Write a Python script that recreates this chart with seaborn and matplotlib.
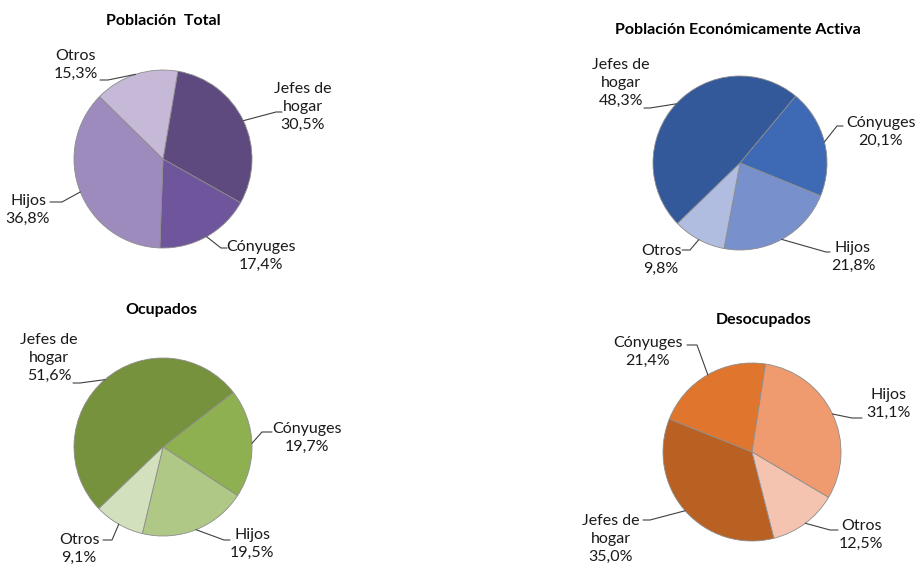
import matplotlib
matplotlib.use("Agg")
import numpy as np
import matplotlib.pyplot as plt
import seaborn as sns

# Data: shares of each group per chart
categories = ['Jefes de\nhogar', 'Cónyuges', 'Hijos', 'Otros']
titles = ['Población  Total', 'Población Económicamente Activa', 'Ocupados', 'Desocupados']
total = [30.5, 17.4, 36.8, 15.3]
pea = [48.3, 20.1, 21.8, 9.8]
ocupados = [51.6, 19.7, 19.5, 9.1]
desocupados = [35.0, 21.4, 31.1, 12.5]
series = [total, pea, ocupados, desocupados]

purples = ['#5e4a7e', '#6f559b', '#9d8bbd', '#c5b9d7']
blues = ['#33599a', '#3e69b5', '#7891cc', '#b0bde0']
greens = ['#76923c', '#8fb050', '#afc886', '#d3e0bd']
oranges = ['#b96023', '#e0762d', '#f09a6f', '#f5c4b1']
palettes = [purples, blues, greens, oranges]

# Layout (image pixel coords, y down)
W, H = 918, 566
centers = [(163, 159), (740, 163), (163, 447), (752, 452)]
radii = [89, 87, 89, 89]
starts = [80.4, 224.1, 223.8, -75.7]
title_pos = [(163, 21), (738, 30), (161, 310), (764, 320)]
label_pos = [
    [(303, 107), (261, 256), (28, 210), (76, 65)],
    [(621, 83), (881, 132), (853, 257), (661, 260)],
    [(49, 358), (307, 438), (252, 544), (79, 549)],
    [(611, 539), (648, 352), (888, 404), (861, 535)],
]
leader_pts = [
    [[(282, 112), (276, 112)], [(227, 248), (221, 248)], [(50, 202), (62, 202)], [(100, 80), (108, 80)]],
    [[(644, 108), (650, 108)], [(843, 126), (837, 126)], [(830, 252), (826, 252)], [(682, 250), (690, 250)]],
    [[(73, 383), (80, 383)], [(272, 432), (262, 432)], [(230, 540), (224, 540)], [(103, 540), (112, 540)]],
    [[(643, 520), (650, 520)], [(687, 345), (697, 345)], [(862, 418), (852, 418)], [(838, 530), (830, 530)]],
]

sns.set_theme(style='white')
plt.rcParams['font.family'] = ['Lato', 'DejaVu Sans']

fig = plt.figure(figsize=(W / 100, H / 100), dpi=100)
ax = fig.add_axes([0, 0, 1, 1])


def fy(y):
    return H - y


for k, vals in enumerate(series):
    cx, cy = centers[k]
    r = radii[k]
    ax.pie(vals, colors=palettes[k], startangle=starts[k], counterclock=False,
           center=(cx, fy(cy)), radius=r,
           wedgeprops=dict(edgecolor='#8c8c8c', linewidth=0.6))
    ax.text(title_pos[k][0], fy(title_pos[k][1]), titles[k], ha='center', va='center',
            fontsize=11.5, fontweight='bold', color='black')
    # label text and leader lines
    ang = starts[k]
    for i, v in enumerate(vals):
        span = v / sum(vals) * 360
        mid = np.deg2rad(ang - span / 2)
        ang -= span
        ex, ey = cx + r * np.cos(mid), cy - r * np.sin(mid)
        pts = leader_pts[k][i] + [(ex, ey)]
        ax.plot([p[0] for p in pts], [fy(p[1]) for p in pts], color='#404040', lw=0.8)
        txt = f"{categories[i]}\n{v:.1f}%".replace('.', ',')
        ax.text(label_pos[k][i][0], fy(label_pos[k][i][1]), txt, ha='center', va='center',
                fontsize=11.5, color='#1a1a1a', linespacing=1.38)

ax.set_xlim(0, W)
ax.set_ylim(0, H)
ax.set_aspect('auto')
ax.axis('off')
fig.savefig('out.png', dpi=100, facecolor='white')
